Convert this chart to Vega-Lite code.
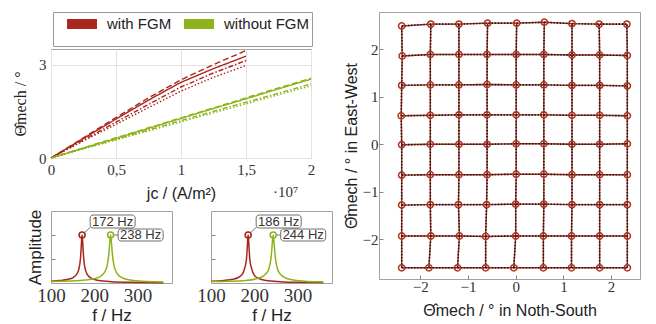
{
"$schema": "https://vega.github.io/schema/vega-lite/v6.json",
"background": "white",
"padding": {"left": 12, "top": 11, "right": 0, "bottom": 0},
"config": {
  "font": "Liberation Sans",
  "view": {"stroke": "#a0a0a0", "strokeWidth": 1},
  "axis": {"domain": false, "labelFlush": false, "labelOverlap": false, "labelFont": "Liberation Serif", "labelColor": "#333", "titleFont": "Liberation Sans", "titleFontWeight": "normal", "titleColor": "#222", "gridColor": "#e2e2e2", "tickColor": "#888"}
},
"datasets": {
  "lines": [
    {"j":0,"v":0,"g":"with FGM","s":"a"},{"j":0.25,"v":0.63,"g":"with FGM","s":"a"},{"j":0.5,"v":1.25,"g":"with FGM","s":"a"},{"j":0.75,"v":1.86,"g":"with FGM","s":"a"},{"j":1,"v":2.43,"g":"with FGM","s":"a"},{"j":1.25,"v":2.87,"g":"with FGM","s":"a"},{"j":1.5,"v":3.27,"g":"with FGM","s":"a"},
    {"j":0,"v":0,"g":"with FGM","s":"b"},{"j":0.25,"v":0.65,"g":"with FGM","s":"b"},{"j":0.5,"v":1.3,"g":"with FGM","s":"b"},{"j":0.75,"v":1.93,"g":"with FGM","s":"b"},{"j":1,"v":2.51,"g":"with FGM","s":"b"},{"j":1.25,"v":3.0,"g":"with FGM","s":"b"},{"j":1.5,"v":3.45,"g":"with FGM","s":"b"},
    {"j":0,"v":0,"g":"with FGM","s":"c"},{"j":0.25,"v":0.58,"g":"with FGM","s":"c"},{"j":0.5,"v":1.15,"g":"with FGM","s":"c"},{"j":0.75,"v":1.72,"g":"with FGM","s":"c"},{"j":1,"v":2.28,"g":"with FGM","s":"c"},{"j":1.25,"v":2.73,"g":"with FGM","s":"c"},{"j":1.5,"v":3.13,"g":"with FGM","s":"c"},
    {"j":0,"v":0,"g":"with FGM","s":"d"},{"j":0.25,"v":0.55,"g":"with FGM","s":"d"},{"j":0.5,"v":1.08,"g":"with FGM","s":"d"},{"j":0.75,"v":1.62,"g":"with FGM","s":"d"},{"j":1,"v":2.15,"g":"with FGM","s":"d"},{"j":1.25,"v":2.59,"g":"with FGM","s":"d"},{"j":1.5,"v":2.97,"g":"with FGM","s":"d"},
    {"j":0,"v":0,"g":"without FGM","s":"a"},{"j":0.25,"v":0.32,"g":"without FGM","s":"a"},{"j":0.5,"v":0.63,"g":"without FGM","s":"a"},{"j":0.75,"v":0.95,"g":"without FGM","s":"a"},{"j":1,"v":1.27,"g":"without FGM","s":"a"},{"j":1.25,"v":1.59,"g":"without FGM","s":"a"},{"j":1.5,"v":1.9,"g":"without FGM","s":"a"},{"j":1.75,"v":2.22,"g":"without FGM","s":"a"},{"j":2,"v":2.53,"g":"without FGM","s":"a"},
    {"j":0,"v":0,"g":"without FGM","s":"b"},{"j":0.25,"v":0.33,"g":"without FGM","s":"b"},{"j":0.5,"v":0.65,"g":"without FGM","s":"b"},{"j":0.75,"v":0.97,"g":"without FGM","s":"b"},{"j":1,"v":1.29,"g":"without FGM","s":"b"},{"j":1.25,"v":1.61,"g":"without FGM","s":"b"},{"j":1.5,"v":1.93,"g":"without FGM","s":"b"},{"j":1.75,"v":2.25,"g":"without FGM","s":"b"},{"j":2,"v":2.56,"g":"without FGM","s":"b"},
    {"j":0,"v":0,"g":"without FGM","s":"c"},{"j":0.25,"v":0.3,"g":"without FGM","s":"c"},{"j":0.5,"v":0.6,"g":"without FGM","s":"c"},{"j":0.75,"v":0.9,"g":"without FGM","s":"c"},{"j":1,"v":1.2,"g":"without FGM","s":"c"},{"j":1.25,"v":1.5,"g":"without FGM","s":"c"},{"j":1.5,"v":1.79,"g":"without FGM","s":"c"},{"j":1.75,"v":2.08,"g":"without FGM","s":"c"},{"j":2,"v":2.38,"g":"without FGM","s":"c"},
    {"j":0,"v":0,"g":"without FGM","s":"d"},{"j":0.25,"v":0.29,"g":"without FGM","s":"d"},{"j":0.5,"v":0.58,"g":"without FGM","s":"d"},{"j":0.75,"v":0.87,"g":"without FGM","s":"d"},{"j":1,"v":1.16,"g":"without FGM","s":"d"},{"j":1.25,"v":1.45,"g":"without FGM","s":"d"},{"j":1.5,"v":1.74,"g":"without FGM","s":"d"},{"j":1.75,"v":2.03,"g":"without FGM","s":"d"},{"j":2,"v":2.32,"g":"without FGM","s":"d"}
  ],
  "spec": [
    {"p":1,"g":"with FGM","f":100,"a":0.078},{"p":1,"g":"with FGM","f":120,"a":0.101},{"p":1,"g":"with FGM","f":140,"a":0.154},{"p":1,"g":"with FGM","f":150,"a":0.216},{"p":1,"g":"with FGM","f":160,"a":0.38},{"p":1,"g":"with FGM","f":165,"a":0.623},{"p":1,"g":"with FGM","f":168,"a":0.99},{"p":1,"g":"with FGM","f":170,"a":1.504},{"p":1,"g":"with FGM","f":171,"a":1.836},{"p":1,"g":"with FGM","f":172,"a":2.0},{"p":1,"g":"with FGM","f":173,"a":1.815},{"p":1,"g":"with FGM","f":174,"a":1.48},{"p":1,"g":"with FGM","f":176,"a":0.961},{"p":1,"g":"with FGM","f":179,"a":0.596},{"p":1,"g":"with FGM","f":185,"a":0.327},{"p":1,"g":"with FGM","f":195,"a":0.181},{"p":1,"g":"with FGM","f":210,"a":0.106},{"p":1,"g":"with FGM","f":240,"a":0.055},{"p":1,"g":"with FGM","f":280,"a":0.032},{"p":1,"g":"with FGM","f":320,"a":0.021},{"p":1,"g":"with FGM","f":360,"a":0.015},
    {"p":1,"g":"without FGM","f":100,"a":0.063},{"p":1,"g":"without FGM","f":140,"a":0.08},{"p":1,"g":"without FGM","f":180,"a":0.122},{"p":1,"g":"without FGM","f":200,"a":0.177},{"p":1,"g":"without FGM","f":215,"a":0.281},{"p":1,"g":"without FGM","f":225,"a":0.477},{"p":1,"g":"without FGM","f":230,"a":0.735},{"p":1,"g":"without FGM","f":234,"a":1.238},{"p":1,"g":"without FGM","f":236,"a":1.69},{"p":1,"g":"without FGM","f":238,"a":2.0},{"p":1,"g":"without FGM","f":240,"a":1.667},{"p":1,"g":"without FGM","f":242,"a":1.215},{"p":1,"g":"without FGM","f":246,"a":0.711},{"p":1,"g":"without FGM","f":252,"a":0.42},{"p":1,"g":"without FGM","f":262,"a":0.244},{"p":1,"g":"without FGM","f":280,"a":0.135},{"p":1,"g":"without FGM","f":310,"a":0.075},{"p":1,"g":"without FGM","f":340,"a":0.05},{"p":1,"g":"without FGM","f":360,"a":0.04},
    {"p":2,"g":"with FGM","f":100,"a":0.072},{"p":2,"g":"with FGM","f":130,"a":0.105},{"p":2,"g":"with FGM","f":151,"a":0.16},{"p":2,"g":"with FGM","f":162,"a":0.22},{"p":2,"g":"with FGM","f":173,"a":0.38},{"p":2,"g":"with FGM","f":178,"a":0.62},{"p":2,"g":"with FGM","f":182,"a":0.99},{"p":2,"g":"with FGM","f":184,"a":1.5},{"p":2,"g":"with FGM","f":185,"a":1.84},{"p":2,"g":"with FGM","f":186,"a":2.0},{"p":2,"g":"with FGM","f":187,"a":1.82},{"p":2,"g":"with FGM","f":188,"a":1.48},{"p":2,"g":"with FGM","f":190,"a":0.96},{"p":2,"g":"with FGM","f":194,"a":0.6},{"p":2,"g":"with FGM","f":200,"a":0.33},{"p":2,"g":"with FGM","f":211,"a":0.18},{"p":2,"g":"with FGM","f":227,"a":0.106},{"p":2,"g":"with FGM","f":260,"a":0.055},{"p":2,"g":"with FGM","f":303,"a":0.031},{"p":2,"g":"with FGM","f":346,"a":0.021},{"p":2,"g":"with FGM","f":360,"a":0.019},
    {"p":2,"g":"without FGM","f":100,"a":0.058},{"p":2,"g":"without FGM","f":140,"a":0.072},{"p":2,"g":"without FGM","f":180,"a":0.105},{"p":2,"g":"without FGM","f":205,"a":0.177},{"p":2,"g":"without FGM","f":220,"a":0.28},{"p":2,"g":"without FGM","f":231,"a":0.477},{"p":2,"g":"without FGM","f":236,"a":0.735},{"p":2,"g":"without FGM","f":240,"a":1.238},{"p":2,"g":"without FGM","f":242,"a":1.69},{"p":2,"g":"without FGM","f":244,"a":2.0},{"p":2,"g":"without FGM","f":246,"a":1.667},{"p":2,"g":"without FGM","f":248,"a":1.215},{"p":2,"g":"without FGM","f":252,"a":0.711},{"p":2,"g":"without FGM","f":258,"a":0.42},{"p":2,"g":"without FGM","f":269,"a":0.244},{"p":2,"g":"without FGM","f":287,"a":0.135},{"p":2,"g":"without FGM","f":318,"a":0.075},{"p":2,"g":"without FGM","f":348,"a":0.05},{"p":2,"g":"without FGM","f":360,"a":0.044}
  ],
  "peaks": [
    {"p":1,"g":"with FGM","f":172,"a":2,"t":"172 Hz"},
    {"p":1,"g":"without FGM","f":238,"a":2,"t":"238 Hz"},
    {"p":2,"g":"with FGM","f":186,"a":2,"t":"186 Hz"},
    {"p":2,"g":"without FGM","f":244,"a":2,"t":"244 Hz"}
  ],
  "grid": [
    {"x":-2.39,"y":2.49,"r":0,"c":0},{"x":-1.78,"y":2.53,"r":0,"c":1},{"x":-1.19,"y":2.53,"r":0,"c":2},{"x":-0.59,"y":2.55,"r":0,"c":3},{"x":0.02,"y":2.55,"r":0,"c":4},{"x":0.6,"y":2.57,"r":0,"c":5},{"x":1.18,"y":2.54,"r":0,"c":6},{"x":1.75,"y":2.53,"r":0,"c":7},{"x":2.33,"y":2.53,"r":0,"c":8},
    {"x":-2.38,"y":1.86,"r":1,"c":0},{"x":-1.79,"y":1.89,"r":1,"c":1},{"x":-1.19,"y":1.89,"r":1,"c":2},{"x":-0.6,"y":1.89,"r":1,"c":3},{"x":0.01,"y":1.89,"r":1,"c":4},{"x":0.59,"y":1.89,"r":1,"c":5},{"x":1.18,"y":1.88,"r":1,"c":6},{"x":1.76,"y":1.88,"r":1,"c":7},{"x":2.34,"y":1.87,"r":1,"c":8},
    {"x":-2.39,"y":1.24,"r":2,"c":0},{"x":-1.79,"y":1.25,"r":2,"c":1},{"x":-1.19,"y":1.25,"r":2,"c":2},{"x":-0.6,"y":1.26,"r":2,"c":3},{"x":0.01,"y":1.25,"r":2,"c":4},{"x":0.59,"y":1.25,"r":2,"c":5},{"x":1.18,"y":1.24,"r":2,"c":6},{"x":1.76,"y":1.24,"r":2,"c":7},{"x":2.34,"y":1.23,"r":2,"c":8},
    {"x":-2.4,"y":0.6,"r":3,"c":0},{"x":-1.79,"y":0.61,"r":3,"c":1},{"x":-1.19,"y":0.62,"r":3,"c":2},{"x":-0.6,"y":0.62,"r":3,"c":3},{"x":0.01,"y":0.62,"r":3,"c":4},{"x":0.59,"y":0.62,"r":3,"c":5},{"x":1.18,"y":0.61,"r":3,"c":6},{"x":1.76,"y":0.61,"r":3,"c":7},{"x":2.34,"y":0.6,"r":3,"c":8},
    {"x":-2.39,"y":-0.01,"r":4,"c":0},{"x":-1.79,"y":0.0,"r":4,"c":1},{"x":-1.19,"y":0.0,"r":4,"c":2},{"x":-0.6,"y":0.0,"r":4,"c":3},{"x":0.01,"y":0.01,"r":4,"c":4},{"x":0.59,"y":0.01,"r":4,"c":5},{"x":1.18,"y":0.0,"r":4,"c":6},{"x":1.76,"y":0.0,"r":4,"c":7},{"x":2.34,"y":0.01,"r":4,"c":8},
    {"x":-2.39,"y":-0.65,"r":5,"c":0},{"x":-1.79,"y":-0.64,"r":5,"c":1},{"x":-1.19,"y":-0.64,"r":5,"c":2},{"x":-0.6,"y":-0.64,"r":5,"c":3},{"x":0.01,"y":-0.63,"r":5,"c":4},{"x":0.59,"y":-0.63,"r":5,"c":5},{"x":1.18,"y":-0.64,"r":5,"c":6},{"x":1.76,"y":-0.64,"r":5,"c":7},{"x":2.34,"y":-0.64,"r":5,"c":8},
    {"x":-2.39,"y":-1.28,"r":6,"c":0},{"x":-1.79,"y":-1.27,"r":6,"c":1},{"x":-1.2,"y":-1.27,"r":6,"c":2},{"x":-0.61,"y":-1.27,"r":6,"c":3},{"x":0.0,"y":-1.26,"r":6,"c":4},{"x":0.59,"y":-1.26,"r":6,"c":5},{"x":1.18,"y":-1.27,"r":6,"c":6},{"x":1.76,"y":-1.27,"r":6,"c":7},{"x":2.34,"y":-1.27,"r":6,"c":8},
    {"x":-2.39,"y":-1.93,"r":7,"c":0},{"x":-1.78,"y":-1.93,"r":7,"c":1},{"x":-1.18,"y":-1.93,"r":7,"c":2},{"x":-0.63,"y":-1.94,"r":7,"c":3},{"x":0.0,"y":-1.93,"r":7,"c":4},{"x":0.58,"y":-1.93,"r":7,"c":5},{"x":1.17,"y":-1.93,"r":7,"c":6},{"x":1.76,"y":-1.93,"r":7,"c":7},{"x":2.34,"y":-1.93,"r":7,"c":8},
    {"x":-2.39,"y":-2.6,"r":8,"c":0},{"x":-1.82,"y":-2.6,"r":8,"c":1},{"x":-1.22,"y":-2.6,"r":8,"c":2},{"x":-0.63,"y":-2.6,"r":8,"c":3},{"x":-0.04,"y":-2.6,"r":8,"c":4},{"x":0.58,"y":-2.6,"r":8,"c":5},{"x":1.17,"y":-2.6,"r":8,"c":6},{"x":1.76,"y":-2.6,"r":8,"c":7},{"x":2.34,"y":-2.6,"r":8,"c":8}
  ]
},
"spacing": 9,
"resolve": {"scale": {"color": "independent"}, "legend": {"color": "independent"}},
"hconcat": [
  {
    "spacing": 0,
    "resolve": {"scale": {"color": "independent"}, "legend": {"color": "independent"}},
    "vconcat": [
      {
        "width": 260, "height": 12,
        "view": {"stroke": null},
        "data": {"name": "lines"},
        "mark": {"type": "line", "strokeWidth": 0},
        "encoding": {
          "x": {"field": "j", "type": "quantitative", "axis": null},
          "y": {"field": "v", "type": "quantitative", "axis": null},
          "detail": {"field": "s"},
          "color": {"field": "g", "type": "nominal", "scale": {"domain": ["with FGM", "without FGM"], "range": ["#a8261b", "#8db31c"]},
                    "legend": {"orient": "none", "legendX": 2, "legendY": 0, "direction": "horizontal", "title": null, "symbolType": "M0.4,0H6.4", "symbolSize": 100, "symbolStrokeWidth": 10, "labelFontSize": 15, "labelFont": "Liberation Sans", "labelColor": "#222", "strokeColor": "#9a9a9a", "padding": 2, "columnPadding": -20, "labelOffset": 32,
                               "encode": {"symbols": {"update": {"strokeWidth": {"value": 10}, "strokeDash": {"value": [1, 0]}, "opacity": {"value": 1}}}}}}
        }
      },
      {
        "spacing": 6,
        "resolve": {"scale": {"color": "independent"}, "legend": {"color": "independent"}},
        "vconcat": [
          {
            "width": 260, "height": 109,
            "layer": [
              {
                "data": {"name": "lines"},
                "mark": {"type": "line", "strokeWidth": 1.4},
                "encoding": {
                  "x": {"field": "j", "type": "quantitative", "scale": {"domain": [0, 2], "nice": false},
                        "axis": {"values": [0, 0.5, 1, 1.5, 2], "labelExpr": "replace(format(datum.value, '.1~f'), '.', ',')", "grid": true, "ticks": false, "labelFontSize": 15, "labelPadding": 4, "title": "jc / (A/m²)", "titleFontSize": 16, "titlePadding": 8}},
                  "y": {"field": "v", "type": "quantitative", "scale": {"domain": [0, 3.5], "nice": false},
                        "axis": {"values": [0, 1, 2, 3], "grid": true, "ticks": false, "labelFontSize": 15, "labelPadding": 5, "title": "Θ̂mech / °", "titleFont": "Liberation Serif", "titleFontSize": 16, "titlePadding": 10}},
                  "color": {"field": "g", "type": "nominal", "scale": {"domain": ["with FGM", "without FGM"], "range": ["#a8261b", "#8db31c"]}, "legend": null},
                  "strokeDash": {"field": "s", "type": "nominal", "scale": {"domain": ["a", "b", "c", "d"], "range": [[1, 0], [6, 3], [5, 2, 1.5, 2], [1.5, 2]]}, "legend": null}
                }
              },
              {
                "data": {"values": [{"t": "·10⁷"}]},
                "mark": {"type": "text", "dx": -38, "dy": 34, "align": "left", "baseline": "middle", "font": "Liberation Serif", "fontSize": 15, "color": "#333"},
                "encoding": {"x": {"datum": 2}, "y": {"datum": 0}, "text": {"field": "t"}}
              }
            ]
          },
          {
            "spacing": 23,
            "hconcat": [
              {
                "width": 121, "height": 72,
                "layer": [
                  {"data": {"name": "spec"}, "transform": [{"filter": "datum.p == 1"}],
                   "mark": {"type": "line", "strokeWidth": 1.5, "interpolate": "monotone"},
                   "encoding": {
                     "x": {"field": "f", "type": "quantitative", "scale": {"domain": [100, 380], "nice": false}, "axis": {"values": [100, 200, 300], "ticks": false, "grid": false, "labelFontSize": 19, "labelPadding": 3, "title": "f / Hz", "titleFontSize": 17, "titlePadding": 2}},
                     "y": {"field": "a", "type": "quantitative", "scale": {"domain": [0, 3], "nice": false}, "axis": {"values": [1, 2], "labels": false, "grid": false, "ticks": true, "tickSize": -4, "title": "Amplitude", "titleFontSize": 17, "titlePadding": 6}},
                     "color": {"field": "g", "type": "nominal", "scale": {"domain": ["with FGM", "without FGM"], "range": ["#a8261b", "#8db31c"]}, "legend": null}
                   }},
                  {"data": {"name": "peaks"}, "transform": [{"filter": "datum.p == 1 && datum.g == 'with FGM'"}],
                   "mark": {"type": "point", "shape": "M2,-2L8.5,-8M11,-20H50A3,3 0 0 1 53,-17V-10A3,3 0 0 1 50,-7H11A3,3 0 0 1 8,-10V-17A3,3 0 0 1 11,-20Z", "size": 4, "filled": true, "fill": "white", "stroke": "#6e6e6e", "strokeWidth": 1, "opacity": 1},
                   "encoding": {"x": {"field": "f", "type": "quantitative"}, "y": {"field": "a", "type": "quantitative"}}},
                  {"data": {"name": "peaks"}, "transform": [{"filter": "datum.p == 1 && datum.g == 'without FGM'"}],
                   "mark": {"type": "point", "shape": "M3.5,0H7.5M10.5,-6H49.5A3,3 0 0 1 52.5,-3V3A3,3 0 0 1 49.5,6H10.5A3,3 0 0 1 7.5,3V-3A3,3 0 0 1 10.5,-6Z", "size": 4, "filled": true, "fill": "white", "stroke": "#6e6e6e", "strokeWidth": 1, "opacity": 1},
                   "encoding": {"x": {"field": "f", "type": "quantitative"}, "y": {"field": "a", "type": "quantitative"}}},
                  {"data": {"name": "peaks"}, "transform": [{"filter": "datum.p == 1"}],
                   "mark": {"type": "point", "filled": false, "size": 36, "strokeWidth": 1.6, "opacity": 1},
                   "encoding": {"x": {"field": "f", "type": "quantitative"}, "y": {"field": "a", "type": "quantitative"},
                                "color": {"field": "g", "type": "nominal", "scale": {"domain": ["with FGM", "without FGM"], "range": ["#a8261b", "#8db31c"]}, "legend": null}}},
                  {"data": {"name": "peaks"}, "transform": [{"filter": "datum.p == 1 && datum.g == 'with FGM'"}],
                   "mark": {"type": "text", "dx": 30.5, "dy": -13.5, "align": "center", "baseline": "middle", "fontSize": 13, "font": "Liberation Sans", "color": "#333"},
                   "encoding": {"x": {"field": "f", "type": "quantitative"}, "y": {"field": "a", "type": "quantitative"}, "text": {"field": "t"}}},
                  {"data": {"name": "peaks"}, "transform": [{"filter": "datum.p == 1 && datum.g == 'without FGM'"}],
                   "mark": {"type": "text", "dx": 30, "dy": 0, "align": "center", "baseline": "middle", "fontSize": 13, "font": "Liberation Sans", "color": "#333"},
                   "encoding": {"x": {"field": "f", "type": "quantitative"}, "y": {"field": "a", "type": "quantitative"}, "text": {"field": "t"}}}
                ]
              },
              {
                "width": 121, "height": 72,
                "layer": [
                  {"data": {"name": "spec"}, "transform": [{"filter": "datum.p == 2"}],
                   "mark": {"type": "line", "strokeWidth": 1.5, "interpolate": "monotone"},
                   "encoding": {
                     "x": {"field": "f", "type": "quantitative", "scale": {"domain": [100, 380], "nice": false}, "axis": {"values": [100, 200, 300], "ticks": false, "grid": false, "labelFontSize": 19, "labelPadding": 3, "title": "f / Hz", "titleFontSize": 17, "titlePadding": 2}},
                     "y": {"field": "a", "type": "quantitative", "scale": {"domain": [0, 3], "nice": false}, "axis": {"values": [1, 2], "labels": false, "grid": false, "ticks": true, "tickSize": -4, "title": null}},
                     "color": {"field": "g", "type": "nominal", "scale": {"domain": ["with FGM", "without FGM"], "range": ["#a8261b", "#8db31c"]}, "legend": null}
                   }},
                  {"data": {"name": "peaks"}, "transform": [{"filter": "datum.p == 2 && datum.g == 'with FGM'"}],
                   "mark": {"type": "point", "shape": "M2,-2L8.5,-8M11,-20H50A3,3 0 0 1 53,-17V-10A3,3 0 0 1 50,-7H11A3,3 0 0 1 8,-10V-17A3,3 0 0 1 11,-20Z", "size": 4, "filled": true, "fill": "white", "stroke": "#6e6e6e", "strokeWidth": 1, "opacity": 1},
                   "encoding": {"x": {"field": "f", "type": "quantitative"}, "y": {"field": "a", "type": "quantitative"}}},
                  {"data": {"name": "peaks"}, "transform": [{"filter": "datum.p == 2 && datum.g == 'without FGM'"}],
                   "mark": {"type": "point", "shape": "M3.5,0H7.5M10.5,-6H49.5A3,3 0 0 1 52.5,-3V3A3,3 0 0 1 49.5,6H10.5A3,3 0 0 1 7.5,3V-3A3,3 0 0 1 10.5,-6Z", "size": 4, "filled": true, "fill": "white", "stroke": "#6e6e6e", "strokeWidth": 1, "opacity": 1},
                   "encoding": {"x": {"field": "f", "type": "quantitative"}, "y": {"field": "a", "type": "quantitative"}}},
                  {"data": {"name": "peaks"}, "transform": [{"filter": "datum.p == 2"}],
                   "mark": {"type": "point", "filled": false, "size": 36, "strokeWidth": 1.6, "opacity": 1},
                   "encoding": {"x": {"field": "f", "type": "quantitative"}, "y": {"field": "a", "type": "quantitative"},
                                "color": {"field": "g", "type": "nominal", "scale": {"domain": ["with FGM", "without FGM"], "range": ["#a8261b", "#8db31c"]}, "legend": null}}},
                  {"data": {"name": "peaks"}, "transform": [{"filter": "datum.p == 2 && datum.g == 'with FGM'"}],
                   "mark": {"type": "text", "dx": 30.5, "dy": -13.5, "align": "center", "baseline": "middle", "fontSize": 13, "font": "Liberation Sans", "color": "#333"},
                   "encoding": {"x": {"field": "f", "type": "quantitative"}, "y": {"field": "a", "type": "quantitative"}, "text": {"field": "t"}}},
                  {"data": {"name": "peaks"}, "transform": [{"filter": "datum.p == 2 && datum.g == 'without FGM'"}],
                   "mark": {"type": "text", "dx": 30, "dy": 0, "align": "center", "baseline": "middle", "fontSize": 13, "font": "Liberation Sans", "color": "#333"},
                   "encoding": {"x": {"field": "f", "type": "quantitative"}, "y": {"field": "a", "type": "quantitative"}, "text": {"field": "t"}}}
                ]
              }
            ]
          }
        ]
      }
    ]
  },
  {
    "width": 261, "height": 267,
    "data": {"name": "grid"},
    "encoding": {
      "x": {"field": "x", "type": "quantitative", "scale": {"domain": [-2.866, 2.606], "nice": false, "zero": false},
            "axis": {"values": [-2, -1, 0, 1, 2], "grid": false, "ticks": true, "tickSize": -4, "labelFontSize": 15, "labelPadding": 4, "title": "Θ̂mech / ° in Noth-South", "titleFontSize": 16, "titlePadding": 8}},
      "y": {"field": "y", "type": "quantitative", "scale": {"domain": [-2.836, 2.785], "nice": false, "zero": false},
            "axis": {"values": [-2, -1, 0, 1, 2], "grid": false, "ticks": true, "tickSize": -4, "labelFontSize": 15, "labelPadding": 5, "title": "Θ̂mech / ° in East-West", "titleFontSize": 16, "titlePadding": 3}}
    },
    "layer": [
      {"mark": {"type": "line", "color": "#b3301f", "strokeWidth": 1.4}, "encoding": {"detail": {"field": "r", "type": "nominal"}, "order": {"field": "x", "type": "quantitative"}}},
      {"mark": {"type": "line", "color": "#b3301f", "strokeWidth": 1.4}, "encoding": {"detail": {"field": "c", "type": "nominal"}, "order": {"field": "y", "type": "quantitative"}}},
      {"mark": {"type": "line", "color": "#1a1a1a", "strokeWidth": 1.6, "strokeDash": [1.5, 1.6]}, "encoding": {"detail": {"field": "r", "type": "nominal"}, "order": {"field": "x", "type": "quantitative"}}},
      {"mark": {"type": "line", "color": "#1a1a1a", "strokeWidth": 1.6, "strokeDash": [1.5, 1.6]}, "encoding": {"detail": {"field": "c", "type": "nominal"}, "order": {"field": "y", "type": "quantitative"}}},
      {"mark": {"type": "point", "color": "#b3301f", "filled": false, "size": 40, "strokeWidth": 1.5, "opacity": 1}}
    ]
  }
]
}
